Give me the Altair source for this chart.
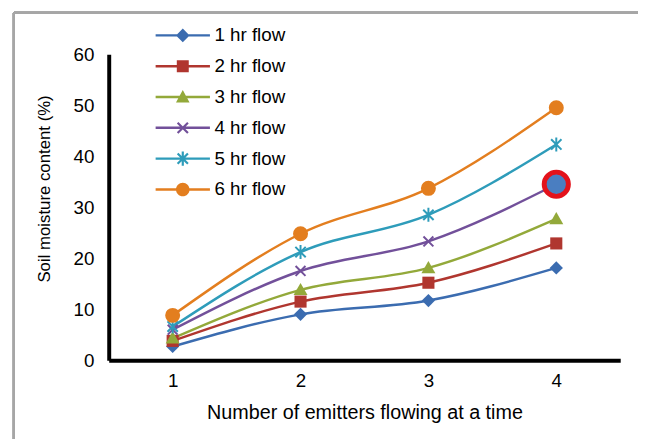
import math
import altair as alt
import pandas as pd

# ---- data ----
emitters = [1, 2, 3, 4]
series = ["1 hr flow", "2 hr flow", "3 hr flow", "4 hr flow", "5 hr flow", "6 hr flow"]
flow_1hr = [2.7, 9.0, 11.7, 18.1]
flow_2hr = [3.8, 11.5, 15.2, 22.9]
flow_3hr = [4.3, 13.8, 18.1, 27.7]
flow_4hr = [6.0, 17.5, 23.3, 34.5]
flow_5hr = [6.6, 21.2, 28.5, 42.3]
flow_6hr = [8.8, 24.8, 33.7, 49.5]
y_ticks = [0, 10, 20, 30, 40, 50, 60]
highlight_series = "4 hr flow"
highlight_x = 4

values = [flow_1hr, flow_2hr, flow_3hr, flow_4hr, flow_5hr, flow_6hr]
rows = []
for s, vals in zip(series, values):
    for x, v in zip(emitters, vals):
        rows.append({"x": x, "series": s, "value": v})
df = pd.DataFrame(rows)

# ---- style ----
colors = ["#3B6CB0", "#B0362F", "#93A93A", "#72509A", "#2E9CBA", "#E37E1F"]
FONT = "Liberation Sans"
LABEL_SIZE = 19

# plot marker paths (unit coordinates)
plot_shapes = [
    ("M0,-1L1,0L0,1L-1,0Z", True, 180),
    ("M-1,-1H1V1H-1Z", True, 150),
    ("M0,-1L1,0.75H-1Z", True, 200),
    ("M-1,-1L1,1M-1,1L1,-1", False, 100),
    ("M-1,-1L1,1M-1,1L1,-1M0,-1.35V1.35", False, 110),
    ("circle", True, 230),
]

K = 2.75  # legend path scale (symbol drawn wider than its nominal size)


def poly(pts):
    area = 0
    for i in range(len(pts)):
        x1, y1 = pts[i]
        x2, y2 = pts[(i + 1) % len(pts)]
        area += x1 * y2 - x2 * y1
    if area < 0:
        pts = pts[::-1]
    return "M" + "L".join(f"{x * K:.4f},{y * K:.4f}" for x, y in pts) + "Z"


def bar(x1, y1, x2, y2, w):
    dx, dy = x2 - x1, y2 - y1
    ln = math.hypot(dx, dy)
    nx, ny = -dy / ln * w, dx / ln * w
    return poly([(x1 + nx, y1 + ny), (x2 + nx, y2 + ny), (x2 - nx, y2 - ny), (x1 - nx, y1 - ny)])


def circ(r):
    r = r * K
    return f"M{-r:.4f},0A{r:.4f},{r:.4f} 0 1 1 {r:.4f},0A{r:.4f},{r:.4f} 0 1 1 {-r:.4f},0Z"


t = 0.045
line_path = poly([(-1, -t), (1, -t), (1, t), (-1, t)])
m = 0.25
a = 0.19
w = 0.04
legend_paths = [
    line_path + poly([(0, -m), (m, 0), (0, m), (-m, 0)]),
    line_path + poly([(-0.22, -0.22), (0.22, -0.22), (0.22, 0.22), (-0.22, 0.22)]),
    line_path + poly([(0, -0.26), (0.25, 0.2), (-0.25, 0.2)]),
    line_path + bar(-a, -a, a, a, w) + bar(-a, a, a, -a, w),
    line_path + bar(-a, -a, a, a, w) + bar(-a, a, a, -a, w) + bar(0, -0.26, 0, 0.26, w),
    line_path + circ(0.25),
]

W, H = 518, 310

x_enc = alt.X(
    "x:O",
    scale=alt.Scale(type="point", padding=0.5),
    axis=alt.Axis(
        title="Number of emitters flowing at a time",
        labelAngle=0,
        ticks=False,
        labelPadding=12,
        labelFontSize=LABEL_SIZE,
        labelFont=FONT,
        labelColor="black",
        titleFontSize=20,
        titleFont=FONT,
        titleFontWeight="normal",
        titleColor="black",
        titleY=53,
        titleBaseline="middle",
        domainColor="black",
        domainWidth=4,
        grid=False,
    ),
)
y_enc = alt.Y(
    "value:Q",
    scale=alt.Scale(domain=[0, 60], nice=False),
    axis=alt.Axis(
        title="Soil moisture content (%)",
        values=y_ticks,
        ticks=False,
        labelPadding=15,
        labelFontSize=LABEL_SIZE,
        labelFont=FONT,
        labelColor="black",
        titleFontSize=17,
        titleFont=FONT,
        titleFontWeight="normal",
        titleColor="black",
        titleX=-65,
        titleY=136,
        titleAngle=-90,
        titleAlign="center",
        titleBaseline="middle",
        domainColor="black",
        domainWidth=4,
        grid=False,
    ),
)

base = alt.Chart(df)
layers = []
for s, c in zip(series, colors):
    layers.append(
        base.transform_filter(alt.datum.series == s)
        .mark_line(interpolate="monotone", strokeWidth=2.5, color=c)
        .encode(x=x_enc, y=y_enc)
    )
for s, c, (shp, filled, size) in zip(series, colors, plot_shapes):
    if filled:
        mk = base.mark_point(filled=True, shape=shp, size=size, color=c, opacity=1)
    else:
        mk = base.mark_point(filled=False, shape=shp, size=size, color=c, strokeWidth=2, opacity=1)
    layers.append(mk.transform_filter(alt.datum.series == s).encode(x=x_enc, y=y_enc))

# highlighted point
layers.append(
    base.transform_filter((alt.datum.series == highlight_series) & (alt.datum.x == highlight_x))
    .mark_point(filled=True, shape="circle", size=600, fill="#4A7EC1", stroke="#E3121B",
                strokeWidth=5, opacity=1)
    .encode(x=x_enc, y=y_enc)
)

# legend layer (draws no marks, only the legend)
leg = alt.Legend(title=None, orient="none", legendX=65, legendY=-29)
layers.append(
    base.transform_filter("false")
    .mark_point(filled=True, opacity=1)
    .encode(
        x=x_enc,
        y=y_enc,
        color=alt.Color("series:N", scale=alt.Scale(domain=series, range=colors), legend=leg),
        shape=alt.Shape("series:N", scale=alt.Scale(domain=series, range=legend_paths), legend=leg),
    )
)

# outer chart-area frame
frame_left = alt.Chart(df).mark_rule(color="#A6A6A6", strokeWidth=2).encode(
    x=alt.value(-96), y=alt.value(-42), y2=alt.value(400))
frame_top = alt.Chart(df).mark_rule(color="#A6A6A6", strokeWidth=2).encode(
    x=alt.value(-96), x2=alt.value(540), y=alt.value(-42))

chart = alt.layer(frame_left, frame_top, *layers).properties(
    width=W,
    height=H,
    autosize=alt.AutoSizeParams(type="none"),
    padding={"left": 102, "top": 44, "right": 18, "bottom": 77},
    background="white",
).configure_view(stroke=None).configure_legend(
    labelFontSize=LABEL_SIZE,
    labelFont=FONT,
    labelColor="black",
    symbolSize=400,
    symbolStrokeWidth=0,
    symbolOpacity=1,
    labelOffset=22,
    rowPadding=11.2,
    padding=0,
)

chart.save("out.html", embed_options={"renderer": "svg", "actions": False})
